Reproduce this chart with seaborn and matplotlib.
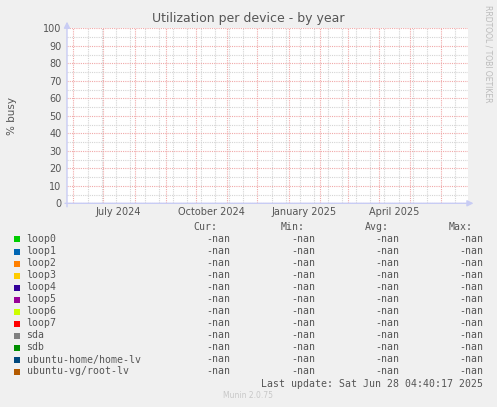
import numpy as np
import pandas as pd
import matplotlib
matplotlib.use("Agg")
import matplotlib.pyplot as plt
import matplotlib.dates as mdates
from matplotlib.patches import Rectangle
import seaborn as sns

### data
devices = ["loop0", "loop1", "loop2", "loop3", "loop4", "loop5", "loop6", "loop7",
           "sda", "sdb", "ubuntu-home/home-lv", "ubuntu-vg/root-lv"]
colors = ["#00CC00", "#0066B3", "#FF8000", "#FFCC00", "#330099", "#990099",
          "#CCFF00", "#FF0000", "#808080", "#008F00", "#00487D", "#B35A00"]
sample_times = pd.to_datetime(["2024-05-26 00:00", "2025-06-28 04:40"])
busy_pct = [[np.nan, np.nan] for _ in devices]   # no samples -> -nan everywhere
cur_vals = ["-nan"] * len(devices)
min_vals = ["-nan"] * len(devices)
avg_vals = ["-nan"] * len(devices)
max_vals = ["-nan"] * len(devices)
month_labels = ["July 2024", "October 2024", "January 2025", "April 2025"]
month_label_dates = pd.to_datetime(["2024-07-16", "2024-10-16", "2025-01-16", "2025-04-16"])
y_ticks = list(range(0, 101, 10))
###

W, H = 497, 407
BG = "#F0F0F0"
TXT = "#555555"
AXC = "#C8CCF4"

sns.set_style("white")
plt.rcParams["font.family"] = ["DejaVu Sans"]

fig = plt.figure(figsize=(W / 100, H / 100), dpi=100, facecolor=BG)
# plot box in pixels: x 67..468, y 28..203
ax = fig.add_axes([67 / W, 1 - 203.3 / H, (468.3 - 67) / W, (203.3 - 28.3) / H])
ax.set_facecolor("white")

df = pd.DataFrame({
    "time": np.tile(sample_times, len(devices)),
    "device": np.repeat(devices, len(sample_times)),
    "busy": np.concatenate(busy_pct),
})
sns.lineplot(data=df, x="time", y="busy", hue="device",
             palette=dict(zip(devices, colors)), legend=False, ax=ax)

ax.set_xlim(mdates.date2num(sample_times[0]), mdates.date2num(sample_times[-1]))
ax.set_ylim(0, 100)

# x grid: months (red) and every two weeks (gray)
ax.xaxis.set_major_locator(mdates.MonthLocator())
ax.xaxis.set_major_formatter(plt.NullFormatter())
minor_x = pd.date_range("2024-06-16", sample_times[-1], freq="14D")
ax.set_xticks(mdates.date2num(minor_x), minor=True)
ax.set_yticks(y_ticks)
ax.set_yticks(range(5, 100, 10), minor=True)
ax.set_yticklabels([str(v) for v in y_ticks], fontsize=7, color=TXT)

ax.grid(which="minor", color="#D4D4D4", linestyle=(0, (1, 1)), linewidth=0.8)
ax.grid(which="major", color="#F0A8A8", linestyle=(0, (1, 1)), linewidth=0.8)
ax.set_axisbelow(True)
ax.tick_params(axis="x", which="major", length=3, color="#F0A8A8", direction="out")
ax.tick_params(axis="x", which="minor", length=2, color="#D4D4D4", direction="out")
ax.tick_params(axis="y", which="both", length=2, color="#C8C8C8", pad=2)
ax.set_xlabel("")
ax.set_ylabel("")
for s in ax.spines.values():
    s.set_visible(False)

for lab, d in zip(month_labels, month_label_dates):
    ax.text(mdates.date2num(d), -0.05, lab, transform=ax.get_xaxis_transform(),
            ha="center", va="center", fontsize=7, color=TXT)

# axis lines with arrows
ax.annotate("", xy=(1.013, 0), xytext=(-0.005, 0), xycoords="axes fraction",
            arrowprops=dict(arrowstyle="-|>", color=AXC, lw=1, mutation_scale=9,
                            shrinkA=0, shrinkB=0), annotation_clip=False)
ax.annotate("", xy=(0, 1.038), xytext=(0, -0.02), xycoords="axes fraction",
            arrowprops=dict(arrowstyle="-|>", color=AXC, lw=1, mutation_scale=9,
                            shrinkA=0, shrinkB=0), annotation_clip=False)

def fx(px):
    return px / W

def fy(py):
    return 1 - py / H

fig.text(fx(248.3), fy(18.5), "Utilization per device - by year", ha="center", va="center",
         fontsize=9, color=TXT)
fig.text(fx(12), fy(116), "% busy", rotation=90, ha="center", va="center",
         fontsize=7.5, color=TXT)
fig.text(fx(488), fy(5), "RRDTOOL / TOBI OETIKER", rotation=270, ha="center", va="top",
         fontsize=5.5, color="#BBBBBB")

# legend table
mono = dict(family="DejaVu Sans Mono", fontsize=7.1, color=TXT, va="center")
hdr_y = 227.3
fig.text(fx(217), fy(hdr_y), "Cur:", ha="right", **mono)
fig.text(fx(305), fy(hdr_y), "Min:", ha="right", **mono)
fig.text(fx(389), fy(hdr_y), "Avg:", ha="right", **mono)
fig.text(fx(473), fy(hdr_y), "Max:", ha="right", **mono)
for i, dev in enumerate(devices):
    y = 239.5 + 12 * i
    fig.add_artist(Rectangle((fx(14), fy(y + 3)), 6 / W, 6 / H, transform=fig.transFigure,
                             facecolor=colors[i], edgecolor="none"))
    fig.text(fx(26.5), fy(y), dev, ha="left", **mono)
    fig.text(fx(230), fy(y), cur_vals[i], ha="right", **mono)
    fig.text(fx(315), fy(y), min_vals[i], ha="right", **mono)
    fig.text(fx(399), fy(y), avg_vals[i], ha="right", **mono)
    fig.text(fx(483), fy(y), max_vals[i], ha="right", **mono)

fig.text(fx(483), fy(384), "Last update: Sat Jun 28 04:40:17 2025", ha="right", **mono)
fig.text(fx(248), fy(396), "Munin 2.0.75", ha="center", va="center", fontsize=5.5,
         color="#C8C8C8")

fig.savefig("out.png", dpi=100, facecolor=BG)
